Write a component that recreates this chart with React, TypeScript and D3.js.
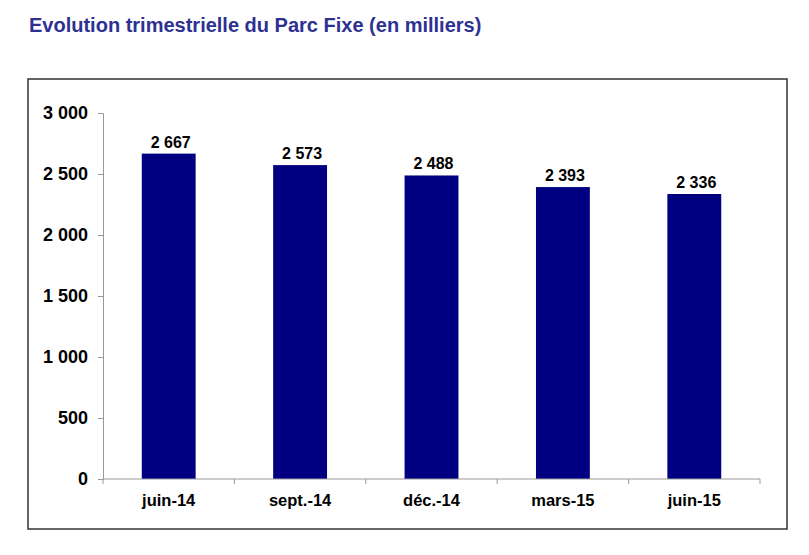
import * as d3 from "d3";
import { useEffect, useRef } from "react";

const WIDTH = 809;
const HEIGHT = 555;
const MARGIN = { top: 113, right: 49, bottom: 76, left: 103 };

const categories = ["juin-14", "sept.-14", "déc.-14", "mars-15", "juin-15"];
const values = [2667, 2573, 2488, 2393, 2336];
const yTicks = [0, 500, 1000, 1500, 2000, 2500, 3000];

const FONT = "Liberation Sans, Arial, sans-serif";

const fr = d3.formatLocale({
  decimal: ",",
  thousands: " ",
  grouping: [3],
  currency: ["", " €"],
});
const fmt = fr.format(",d");

export default function App() {
  const ref = useRef<SVGSVGElement>(null);

  useEffect(() => {
    const svg = d3.select(ref.current);
    svg.selectAll("*").remove();

    svg.append("rect").attr("width", WIDTH).attr("height", HEIGHT).attr("fill", "white");

    // titre
    svg
      .append("text")
      .attr("x", 29)
      .attr("y", 32)
      .attr("font-family", FONT)
      .attr("font-weight", "bold")
      .attr("font-size", 20)
      .attr("fill", "#2e3192")
      .text("Evolution trimestrielle du Parc Fixe (en milliers)");

    // cadre
    svg
      .append("rect")
      .attr("x", 28)
      .attr("y", 79)
      .attr("width", 759)
      .attr("height", 450)
      .attr("fill", "none")
      .attr("stroke", "#333")
      .attr("stroke-width", 1.5);

    const x = d3
      .scaleBand()
      .domain(categories)
      .range([MARGIN.left, WIDTH - MARGIN.right])
      .paddingInner(0.59)
      .paddingOuter(0.295);

    const y = d3
      .scaleLinear()
      .domain([0, 3000])
      .range([HEIGHT - MARGIN.bottom, MARGIN.top]);

    svg
      .selectAll("rect.bar")
      .data(values)
      .join("rect")
      .attr("class", "bar")
      .attr("x", (_, i) => x(categories[i]) || 0)
      .attr("y", (d) => y(d))
      .attr("width", x.bandwidth())
      .attr("height", (d) => y(0) - y(d))
      .attr("fill", "#000080");

    // étiquettes de valeur
    svg
      .selectAll("text.val")
      .data(values)
      .join("text")
      .attr("class", "val")
      .attr("x", (_, i) => (x(categories[i]) || 0) + x.bandwidth() / 2 + 2)
      .attr("y", (d) => y(d) - 6)
      .attr("text-anchor", "middle")
      .attr("font-family", FONT)
      .attr("font-weight", "bold")
      .attr("font-size", 16)
      .attr("fill", "black")
      .text((d) => fmt(d));

    // axe Y
    const yAxis = svg
      .append("g")
      .attr("transform", `translate(${MARGIN.left}, 0)`)
      .call(
        d3
          .axisLeft(y)
          .tickValues(yTicks)
          .tickSize(5)
          .tickPadding(10)
          .tickFormat((d) => fmt(d as number))
      );
    yAxis.selectAll("line, path").attr("stroke", "#999");
    yAxis
      .selectAll("text")
      .attr("font-family", FONT)
      .attr("font-weight", "bold")
      .attr("font-size", 18)
      .attr("fill", "black");

    // axe X
    const x0 = MARGIN.left;
    const x1 = WIDTH - MARGIN.right;
    const xAxis = svg.append("g").attr("transform", `translate(0, ${y(0)})`);
    xAxis.append("line").attr("x1", x0).attr("x2", x1).attr("stroke", "#999");
    xAxis
      .selectAll("line.tick")
      .data(d3.range(categories.length + 1))
      .join("line")
      .attr("class", "tick")
      .attr("x1", (i) => x0 + (i * (x1 - x0)) / categories.length)
      .attr("x2", (i) => x0 + (i * (x1 - x0)) / categories.length)
      .attr("y1", 0)
      .attr("y2", 5)
      .attr("stroke", "#999");
    xAxis
      .selectAll("text")
      .data(categories)
      .join("text")
      .attr("x", (d) => (x(d) || 0) + x.bandwidth() / 2)
      .attr("y", 27)
      .attr("text-anchor", "middle")
      .attr("font-family", FONT)
      .attr("font-weight", "bold")
      .attr("font-size", 16.5)
      .attr("fill", "black")
      .text((d) => d);
  }, []);

  return (
    <div style={{ position: "absolute", left: 0, top: 0 }}>
      <svg ref={ref} width={WIDTH} height={HEIGHT} style={{ display: "block" }} />
    </div>
  );
}
